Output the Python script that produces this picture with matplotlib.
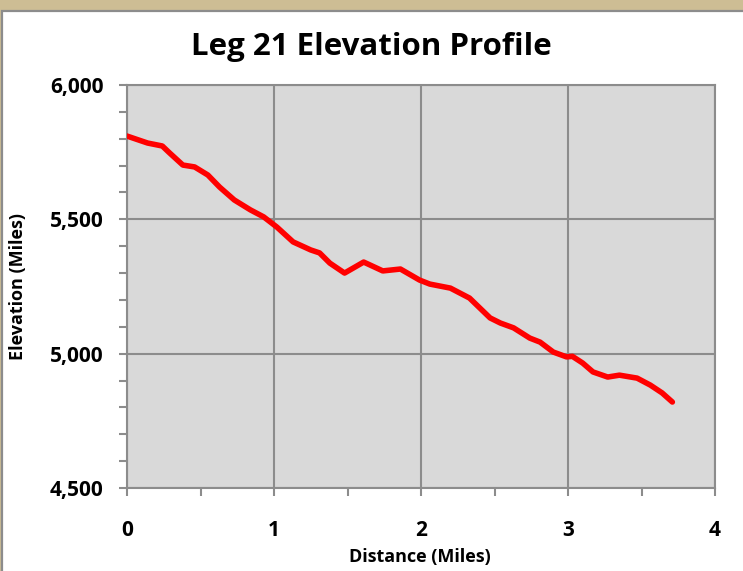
import matplotlib
matplotlib.use("Agg")
import matplotlib.pyplot as plt
from matplotlib.patches import Rectangle
from matplotlib.ticker import MultipleLocator, FuncFormatter

# distance (miles) and elevation (ft) along the leg
distance = [0.0, 0.14, 0.24, 0.29, 0.38, 0.46, 0.55, 0.63, 0.73, 0.84, 0.93, 1.02,
            1.13, 1.25, 1.31, 1.38, 1.48, 1.61, 1.74, 1.86, 1.99,
            2.06, 2.20, 2.33, 2.47, 2.54, 2.63, 2.74, 2.81, 2.90, 2.99,
            3.03, 3.10, 3.17, 3.27, 3.35, 3.47, 3.56, 3.64, 3.71]
elevation = [5810, 5784, 5773, 5747, 5702, 5695, 5665, 5620, 5572, 5535, 5509, 5471,
             5416, 5386, 5375, 5337, 5300, 5341, 5308, 5315, 5274,
             5259, 5244, 5207, 5133, 5114, 5096, 5058, 5043, 5006, 4988,
             4990, 4965, 4932, 4913, 4920, 4909, 4883, 4854, 4820]

title = "Leg 21 Elevation Profile"
xlabel = "Distance (Miles)"
ylabel = "Elevation (Miles)"

font = ["Open Sans", "DejaVu Sans"]
grey = "#8c8c8c"

fig = plt.figure(figsize=(7.43, 5.71), dpi=100)
fig.patch.set_facecolor("#cdbd94")

# white chart panel with grey frame
W, H = 743, 571
fig.patches.append(Rectangle((1.5 / W, -0.05), 1.2, (H - 10.5) / H + 0.05,
                             transform=fig.transFigure, facecolor="white",
                             edgecolor=grey, linewidth=1.6, zorder=-5))

ax = fig.add_axes([127 / W, 1 - 488 / H, (715 - 127) / W, (488 - 85) / H])
ax.set_facecolor("#d9d9d9")
ax.plot(distance, elevation, color="#ff0000", linewidth=4,
        solid_capstyle="round", solid_joinstyle="round", zorder=3)

ax.set_xlim(0, 4)
ax.set_ylim(4500, 6000)
ax.xaxis.set_major_locator(MultipleLocator(1))
ax.xaxis.set_minor_locator(MultipleLocator(0.5))
ax.yaxis.set_major_locator(MultipleLocator(500))
ax.yaxis.set_minor_locator(MultipleLocator(100))
ax.yaxis.set_major_formatter(FuncFormatter(lambda v, p: f"{int(v):,}"))

ax.grid(which="major", color=grey, linewidth=1.5, zorder=1)
ax.set_axisbelow(True)
for s in ax.spines.values():
    s.set_color(grey)
    s.set_linewidth(1.5)

ax.tick_params(which="both", direction="out", color=grey, width=1.5, length=6)
ax.tick_params(axis="y", which="major", pad=11)
ax.tick_params(axis="x", which="major", pad=17)
for lab in ax.get_xticklabels() + ax.get_yticklabels():
    lab.set_fontfamily(font)
    lab.set_fontweight("bold")
    lab.set_fontsize(15)

fig.text(0.5, 1 - 47 / H, title, ha="center", va="center",
         fontsize=22.5, fontweight="bold", family=font)
fig.text(420 / W, 1 - 557 / H, xlabel, ha="center", va="center",
         fontsize=13, fontweight="bold", family=font)
fig.text(18 / W, 1 - 287 / H, ylabel, ha="center", va="center", rotation=90,
         fontsize=13, fontweight="bold", family=font)

fig.savefig("out.png", dpi=100, facecolor=fig.get_facecolor())
